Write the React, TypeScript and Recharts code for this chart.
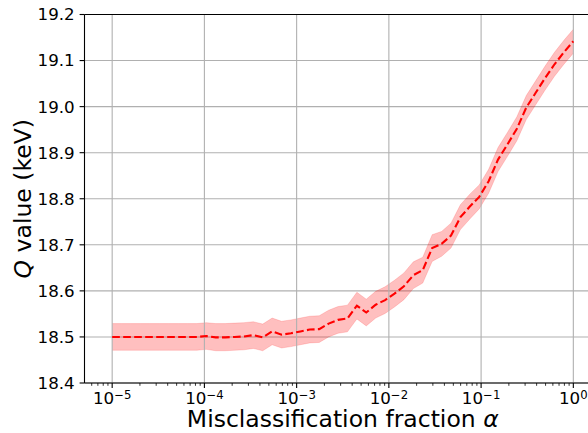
import React from 'react';
import { ComposedChart, Line, Area, XAxis, YAxis, CartesianGrid, ReferenceLine, Label } from 'recharts';

// Misclassification fraction alpha (log-spaced samples)
const alphas = [
  1.0e-5, 1.265e-5, 1.600e-5, 2.024e-5, 2.560e-5, 3.237e-5, 4.095e-5, 5.179e-5, 6.551e-5, 8.286e-5,
  1.048e-4, 1.326e-4, 1.677e-4, 2.121e-4, 2.683e-4, 3.393e-4, 4.292e-4, 5.429e-4, 6.866e-4, 8.685e-4,
  1.099e-3, 1.389e-3, 1.758e-3, 2.223e-3, 2.812e-3, 3.556e-3, 4.498e-3, 5.690e-3, 7.197e-3, 9.103e-3,
  1.151e-2, 1.456e-2, 1.842e-2, 2.330e-2, 2.947e-2, 3.728e-2, 4.715e-2, 5.964e-2, 7.543e-2, 9.541e-2,
  0.1207, 0.1526, 0.1931, 0.2442, 0.3089, 0.3907, 0.4942, 0.6251, 0.7906, 1.0,
];

// Q value (keV), central estimate
const qValues = [
  18.500, 18.500, 18.500, 18.500, 18.500, 18.500, 18.500, 18.500, 18.500, 18.500,
  18.502, 18.499, 18.499, 18.500, 18.501, 18.504, 18.499, 18.512, 18.505, 18.508,
  18.512, 18.516, 18.517, 18.529, 18.537, 18.540, 18.568, 18.553, 18.570, 18.580,
  18.594, 18.610, 18.634, 18.645, 18.693, 18.702, 18.720, 18.760, 18.783, 18.804,
  18.838, 18.885, 18.918, 18.952, 18.998, 19.030, 19.062, 19.092, 19.118, 19.142,
];

// Upper edge of the uncertainty band
const qUpper = [
  18.529, 18.529, 18.529, 18.529, 18.529, 18.529, 18.529, 18.529, 18.529, 18.529,
  18.531, 18.529, 18.529, 18.530, 18.531, 18.533, 18.528, 18.541, 18.534, 18.537,
  18.541, 18.545, 18.546, 18.558, 18.566, 18.569, 18.597, 18.582, 18.599, 18.609,
  18.623, 18.639, 18.663, 18.673, 18.722, 18.729, 18.747, 18.787, 18.810, 18.830,
  18.864, 18.911, 18.944, 18.978, 19.024, 19.056, 19.088, 19.118, 19.144, 19.168,
];

// Lower edge of the uncertainty band
const qLower = [
  18.471, 18.471, 18.471, 18.471, 18.471, 18.471, 18.471, 18.471, 18.471, 18.471,
  18.473, 18.470, 18.470, 18.471, 18.472, 18.475, 18.470, 18.483, 18.476, 18.479,
  18.483, 18.487, 18.488, 18.500, 18.508, 18.511, 18.539, 18.524, 18.541, 18.551,
  18.565, 18.581, 18.605, 18.617, 18.664, 18.675, 18.693, 18.733, 18.756, 18.778,
  18.812, 18.859, 18.892, 18.926, 18.972, 19.004, 19.036, 19.066, 19.092, 19.116,
];

const xMajorTicks = [1e-5, 1e-4, 1e-3, 1e-2, 1e-1, 1];
const xMinorMultipliers = [2, 3, 4, 5, 6, 7, 8, 9];
const xMinorDecades = [1e-6, 1e-5, 1e-4, 1e-3, 1e-2, 1e-1];
const yTicks = [18.4, 18.5, 18.6, 18.7, 18.8, 18.9, 19.0, 19.1, 19.2];

const X_MIN = Math.pow(10, -5.3);
const X_MAX = Math.pow(10, 0.3);

const xMinorTicks: number[] = [];
xMinorDecades.forEach((d) => {
  xMinorMultipliers.forEach((m) => {
    const v = m * d;
    if (v > X_MIN && v < X_MAX) xMinorTicks.push(v);
  });
});
const xAllTicks = [...xMajorTicks, ...xMinorTicks].sort((a, b) => a - b);

const data = alphas.map((a, i) => ({
  alpha: a,
  q: qValues[i],
  band: [qLower[i], qUpper[i]],
}));

const FONT = 'DejaVu Sans';
const TICK_FS = 16.7;
const LABEL_FS = 23.5;

const isMajor = (v: number) => xMajorTicks.some((m) => Math.abs(m - v) / m < 1e-9);

const XTick = (props: any) => {
  const { x, y, payload } = props;
  const v = payload.value as number;
  const major = isMajor(v);
  const exp = Math.round(Math.log10(v));
  const expStr = exp < 0 ? '\u2212' + String(-exp) : String(exp);
  return (
    <g>
      <line x1={x} x2={x} y1={y} y2={y + (major ? 4.9 : 2.8)} stroke="#000" strokeWidth={major ? 1.1 : 0.8} />
      {major && (
        <text x={x} y={y + 21} textAnchor="middle" fontFamily={FONT} fontSize={TICK_FS} fill="#000">
          10
          <tspan dy={-5.5} fontSize={11.7}>
            {expStr}
          </tspan>
        </text>
      )}
    </g>
  );
};

const YLabel = (props: any) => {
  const vb = props.viewBox || {};
  const cy = (vb.y ?? 14.5) + (vb.height ?? 368.5) / 2;
  const x = 30.5;
  return (
    <text
      x={x}
      y={cy}
      transform={`rotate(-90, ${x}, ${cy})`}
      textAnchor="middle"
      fontFamily={FONT}
      fontSize={LABEL_FS}
      fill="#000"
    >
      <tspan fontStyle="italic">Q</tspan>
      <tspan> value (keV)</tspan>
    </text>
  );
};

const XLabel = (props: any) => {
  const vb = props.viewBox || {};
  const cx = (vb.x ?? 84.5) + (vb.width ?? 516.5) / 2;
  return (
    <text x={cx} y={427} textAnchor="middle" fontFamily={FONT} fontSize={LABEL_FS} fill="#000">
      <tspan>Misclassification fraction </tspan>
      <tspan fontStyle="italic">α</tspan>
    </text>
  );
};

export default function App() {
  return (
    <div
      style={{
        position: 'absolute',
        left: 0,
        top: 0,
        width: 588,
        height: 433,
        overflow: 'hidden',
        background: '#fff',
      }}
    >
      <ComposedChart
        width={620}
        height={433}
        data={data}
        margin={{ top: 14.5, right: 19, left: 0, bottom: 0 }}
      >
        <CartesianGrid vertical={false} stroke="#b0b0b0" strokeWidth={1.1} />
        <XAxis
          dataKey="alpha"
          type="number"
          scale="log"
          domain={[X_MIN, X_MAX]}
          allowDataOverflow
          ticks={xAllTicks}
          interval={0}
          tick={<XTick />}
          tickLine={false}
          tickSize={0}
          tickMargin={0}
          height={50}
          axisLine={{ stroke: '#000', strokeWidth: 1.1 }}
        >
          <Label content={<XLabel />} />
        </XAxis>
        <YAxis
          type="number"
          domain={[18.4, 19.2]}
          ticks={yTicks}
          interval={0}
          width={84.5}
          tickSize={4.9}
          tickMargin={4.9}
          tickFormatter={(v: number) => v.toFixed(1)}
          tick={{ fill: '#000', fontFamily: FONT, fontSize: TICK_FS }}
          tickLine={{ stroke: '#000', strokeWidth: 1.1 }}
          axisLine={{ stroke: '#000', strokeWidth: 1.1 }}
          allowDataOverflow
        >
          <Label content={<YLabel />} />
        </YAxis>
        <Area
          type="linear"
          dataKey="band"
          fill="#ff0000"
          fillOpacity={0.25}
          stroke="#ff0000"
          strokeOpacity={0.15}
          strokeWidth={1}
          isAnimationActive={false}
          activeDot={false}
        />
        {xMajorTicks.map((t) => (
          <ReferenceLine key={t} x={t} stroke="#b0b0b0" strokeWidth={1.1} />
        ))}
        <ReferenceLine y={19.2} stroke="#000" strokeWidth={1.1} />
        <Line
          type="linear"
          dataKey="q"
          stroke="#ff0000"
          strokeWidth={2.1}
          strokeDasharray="7.7 3.3"
          dot={false}
          activeDot={false}
          isAnimationActive={false}
        />
      </ComposedChart>
    </div>
  );
}
